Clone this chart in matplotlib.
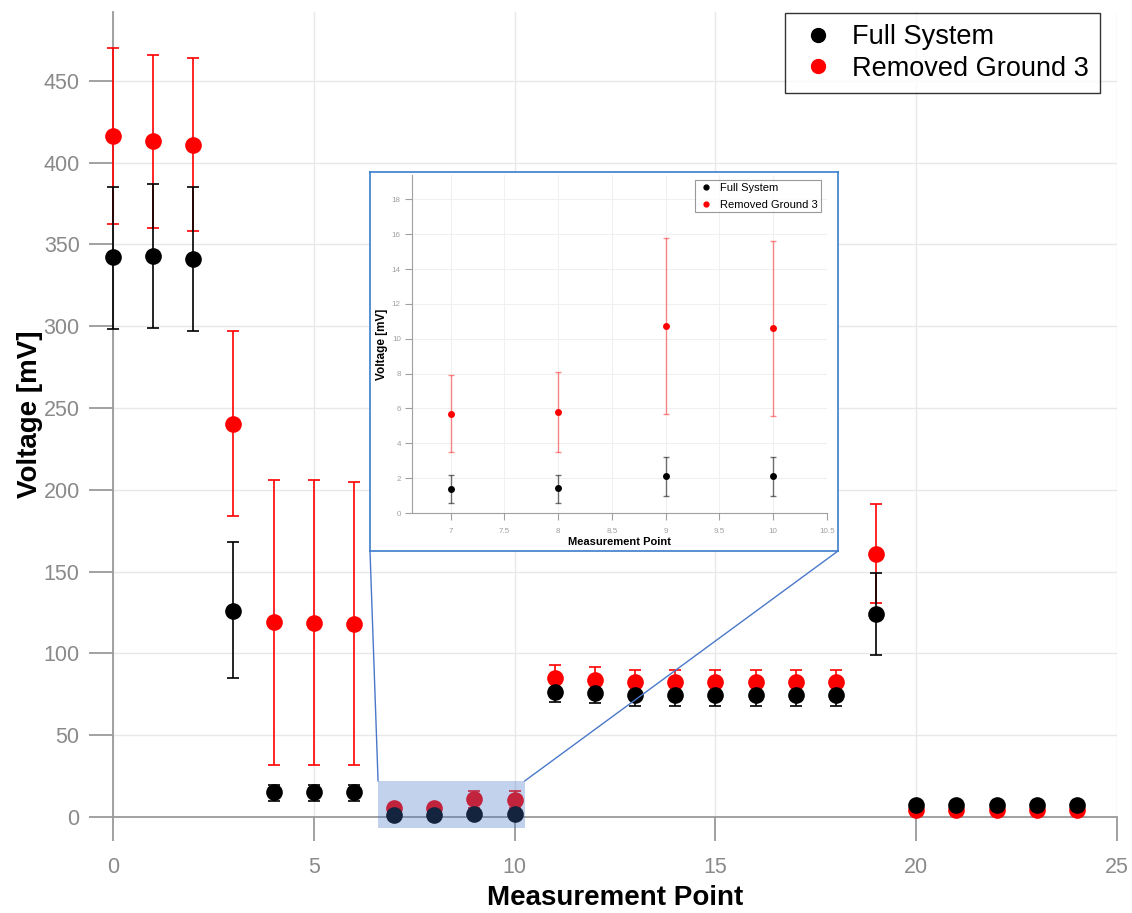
import matplotlib
matplotlib.use("Agg")
import matplotlib.pyplot as plt
from matplotlib.patches import Rectangle, ConnectionPatch
from matplotlib.lines import Line2D

plt.rcParams['font.family'] = ['Liberation Sans', 'DejaVu Sans']

# ---------------- data ----------------
points = list(range(25))
full_mean = [342, 343, 341, 126, 15, 15, 15, 1.4, 1.45, 2.1, 2.1,
             76.5, 75.5, 74.5, 74.5, 74.5, 74.5, 74.5, 74.5, 124,
             7.2, 7.2, 7.2, 7.2, 7.2]
full_low = [298, 299, 297, 85, 10, 10, 10, 0.6, 0.6, 1.0, 1.0,
            70.3, 69.7, 68, 68, 68, 68, 68, 68, 99,
            5.5, 5.5, 5.5, 5.5, 5.5]
full_high = [385, 387, 385, 168, 19.5, 19.5, 19.5, 2.2, 2.2, 3.2, 3.2,
             82.7, 81.5, 80.8, 80.8, 80.8, 80.8, 80.8, 80.8, 149,
             9, 9, 9, 9, 9]
rem_mean = [416.5, 413, 411, 240, 119, 118.5, 118, 5.7, 5.8, 10.75, 10.6,
            85, 84, 82.7, 82.7, 82.7, 82.7, 82.7, 82.7, 161,
            4.3, 4.3, 4.3, 4.3, 4.3]
rem_low = [362.5, 360, 358, 184, 31.5, 31.5, 31.5, 3.5, 3.5, 5.7, 5.55,
           77.5, 77, 76, 76, 76, 76, 76, 76, 130.5,
           3.2, 3.2, 3.2, 3.2, 3.2]
rem_high = [470, 466, 464, 297, 206, 206, 205, 7.9, 8.1, 15.8, 15.6,
            93.2, 91.5, 90, 90, 90, 90, 90, 90, 191,
            5.4, 5.4, 5.4, 5.4, 5.4]
series_labels = ["Full System", "Removed Ground 3"]
zoom_points = [7, 8, 9, 10]

def errs(mean, low, high):
    return [[m - l for m, l in zip(mean, low)], [h - m for m, h in zip(mean, high)]]

W, H = 1132, 913
fig = plt.figure(figsize=(W / 100, H / 100), dpi=100)
ax = fig.add_axes([113 / W, 1 - 817 / H, (1117 - 113) / W, (817 - 12) / H])

grid_c = '#e8e8e8'
tick_c = '#8a8a8a'

# main series
ax.errorbar(points, rem_mean, yerr=errs(rem_mean, rem_low, rem_high), fmt='none',
            ecolor='#ff0000', elinewidth=1.2, capsize=4.5, capthick=1.2, clip_on=False, zorder=3)
ax.errorbar(points, full_mean, yerr=errs(full_mean, full_low, full_high), fmt='none',
            ecolor='black', elinewidth=1.2, capsize=4.5, capthick=1.2, clip_on=False, zorder=3)
ax.plot(points, rem_mean, 'o', color='#ff0000', ms=12, mec='none', clip_on=False, zorder=4)
ax.plot(points, full_mean, 'o', color='black', ms=12, mec='none', clip_on=False, zorder=5)

ax.set_xlim(0, 25)
ax.set_ylim(0, 492)
ax.set_xticks([0, 5, 10, 15, 20, 25])
ax.set_yticks([0, 50, 100, 150, 200, 250, 300, 350, 400, 450])
ax.grid(True, color=grid_c, linewidth=1.0)
ax.set_axisbelow(True)
for s in ['top', 'right']:
    ax.spines[s].set_visible(False)
ax.spines['left'].set_color('#9a9a9a')
ax.spines['bottom'].set_color('#9a9a9a')
ax.spines['left'].set_linewidth(1.3)
ax.spines['bottom'].set_linewidth(1.3)
ax.tick_params(axis='both', direction='out', length=17, width=1.3, color='#9a9a9a',
               labelcolor=tick_c, labelsize=15.5)
ax.tick_params(axis='x', pad=12)
ax.tick_params(axis='y', pad=7)
ax.set_xlabel("Measurement Point", fontsize=20, fontweight='bold', labelpad=5)
ax.set_ylabel("Voltage [mV]", fontsize=20, fontweight='bold', labelpad=0)

handles = [Line2D([], [], marker='o', ls='none', color='black', ms=10),
           Line2D([], [], marker='o', ls='none', color='#ff0000', ms=10)]
leg = ax.legend(handles, series_labels, loc='upper right', fontsize=19.5, frameon=True,
                fancybox=False, edgecolor='black', handletextpad=0.45, borderpad=0.42,
                labelspacing=0.2, handlelength=1.6, borderaxespad=0,
                bbox_to_anchor=(0.983, 0.999))
leg.get_frame().set_linewidth(1.0)

# highlight rectangle
rect = Rectangle((6.6, -7), 3.65, 29, facecolor='#4472c4', alpha=0.32, edgecolor='none',
                 clip_on=False, zorder=6)
ax.add_patch(rect)

# inset frame
bx0, bx1, by0, by1 = 370, 838, 172, 551
axb = fig.add_axes([bx0 / W, 1 - by1 / H, (bx1 - bx0) / W, (by1 - by0) / H])
axb.set_xticks([])
axb.set_yticks([])
axb.set_facecolor('white')
for s in axb.spines.values():
    s.set_color('#3a7dcc')
    s.set_linewidth(1.2)

blue = '#4a78c8'
con1 = ConnectionPatch(xyA=(6.6, 22), coordsA=ax.transData, xyB=(0, 0), coordsB=axb.transAxes,
                       color=blue, lw=1.0, zorder=7)
con2 = ConnectionPatch(xyA=(10.25, 22), coordsA=ax.transData, xyB=(1, 0), coordsB=axb.transAxes,
                       color=blue, lw=1.0, zorder=7)
fig.add_artist(con1)
fig.add_artist(con2)

# inset axes
ix0, ix1, iy0, iy1 = 412, 827, 175, 513
axi = fig.add_axes([ix0 / W, 1 - iy1 / H, (ix1 - ix0) / W, (iy1 - iy0) / H])
zi = [points.index(p) for p in zoom_points]
rm = [rem_mean[i] for i in zi]
rl = [rem_low[i] for i in zi]
rh = [rem_high[i] for i in zi]
fm = [full_mean[i] for i in zi]
fl = [full_low[i] for i in zi]
fh = [full_high[i] for i in zi]
axi.errorbar(zoom_points, rm, yerr=errs(rm, rl, rh), fmt='none', ecolor='#ff0000', alpha=0.45,
             elinewidth=1.0, capsize=2, capthick=1.0)
axi.errorbar(zoom_points, fm, yerr=errs(fm, fl, fh), fmt='none', ecolor='black', alpha=0.55,
             elinewidth=1.0, capsize=2, capthick=1.0)
axi.plot(zoom_points, rm, 'o', color='#ff0000', ms=5, mec='none')
axi.plot(zoom_points, fm, 'o', color='black', ms=5, mec='none')
axi.set_xlim(6.64, 10.5)
axi.set_ylim(0, 19.4)
axi.set_xticks([7, 7.5, 8, 8.5, 9, 9.5, 10, 10.5])
axi.set_xticklabels(['7', '7.5', '8', '8.5', '9', '9.5', '10', '10.5'])
axi.set_yticks(range(0, 19, 2))
axi.grid(True, color='#f0f0f0', linewidth=0.8)
axi.set_axisbelow(True)
for s in ['top', 'right']:
    axi.spines[s].set_visible(False)
axi.spines['left'].set_color('#a0a0a0')
axi.spines['bottom'].set_color('#a0a0a0')
axi.tick_params(axis='both', direction='out', length=5, width=0.8, color='#a0a0a0',
                labelcolor='#a0a0a0', labelsize=5.8)
axi.tick_params(axis='x', pad=6)
axi.tick_params(axis='y', pad=3)
axi.set_xlabel("Measurement Point", fontsize=8, fontweight='bold', labelpad=1)
axi.set_ylabel("Voltage [mV]", fontsize=8.5, fontweight='bold', labelpad=3)
ihandles = [Line2D([], [], marker='o', ls='none', color='black', ms=3.5),
            Line2D([], [], marker='o', ls='none', color='#ff0000', ms=3.5)]
ileg = axi.legend(ihandles, series_labels, loc='upper right', fontsize=8, frameon=True,
                  fancybox=False, edgecolor='#808080', handletextpad=0.5, borderpad=0.25,
                  labelspacing=0.6, handlelength=1.5, borderaxespad=0,
                  bbox_to_anchor=(0.985, 0.985))
ileg.get_frame().set_linewidth(0.8)

fig.savefig("out.png", dpi=100)
